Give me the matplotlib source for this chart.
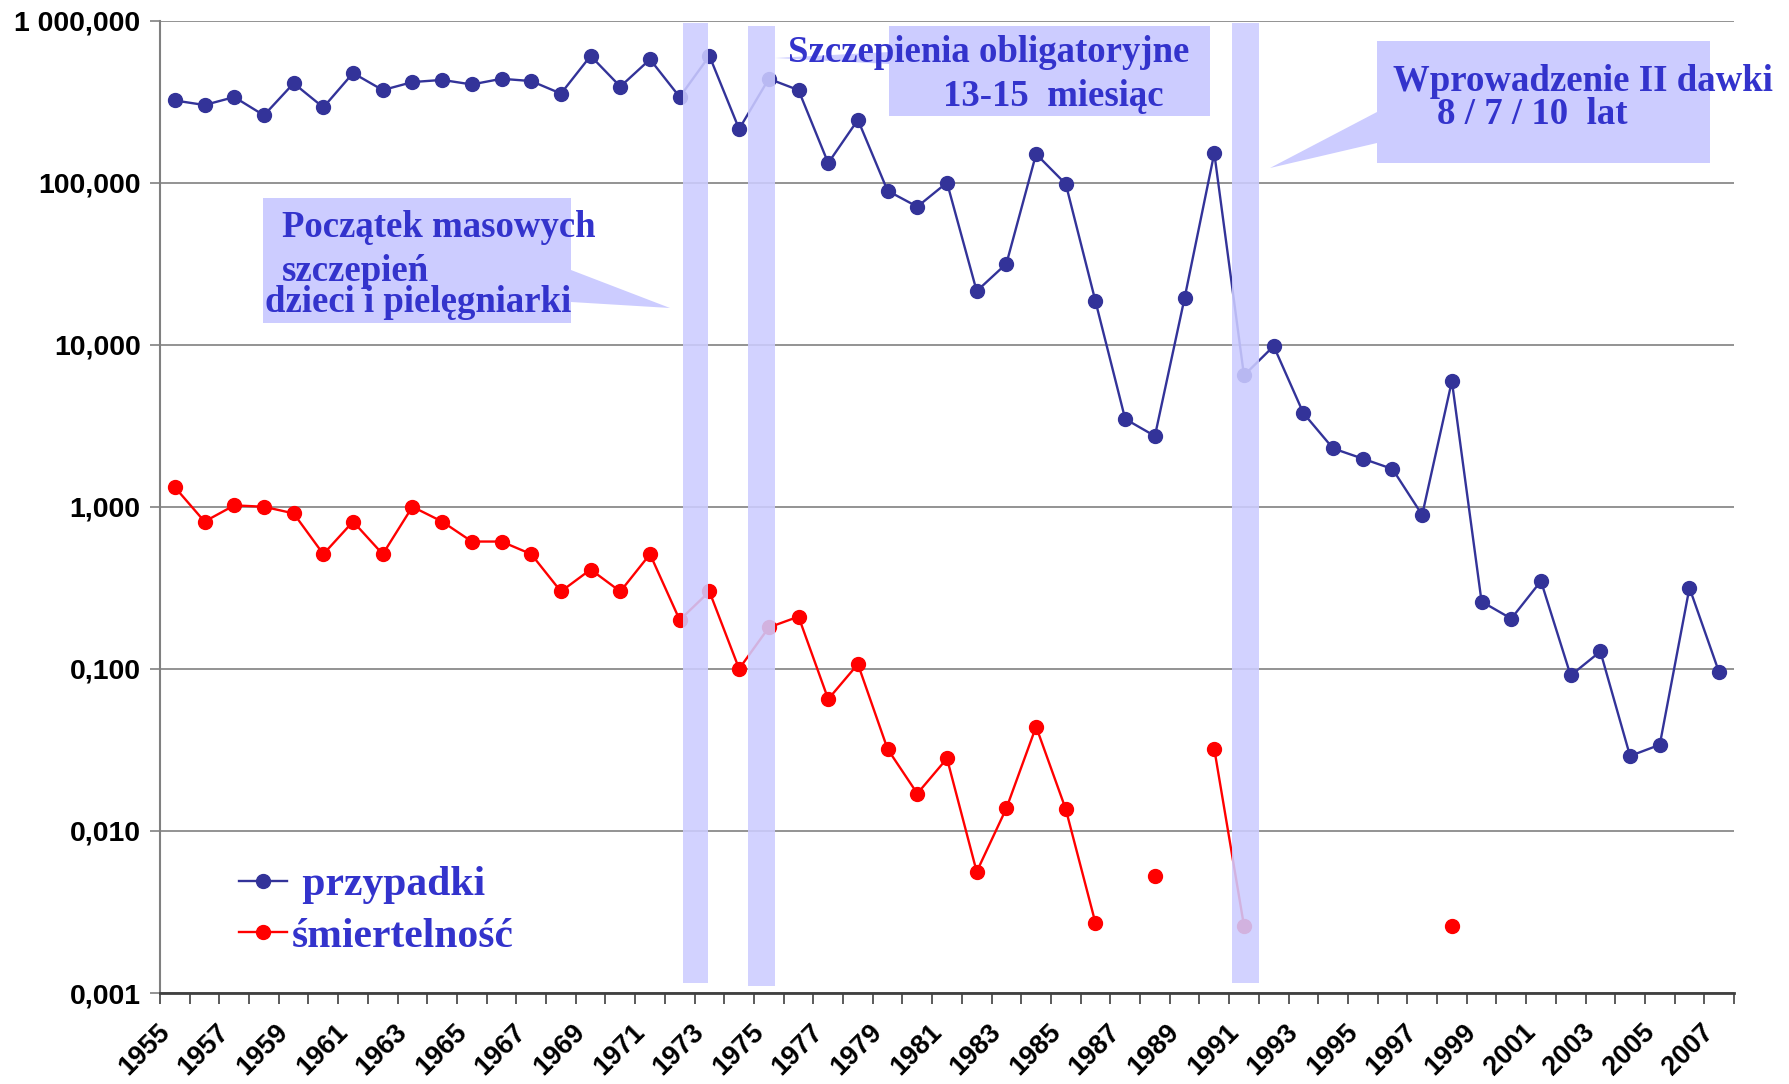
import matplotlib
matplotlib.use("Agg")
import matplotlib.pyplot as plt
import numpy as np
from matplotlib.patches import Polygon
from matplotlib.ticker import NullLocator

# ---------------- data ----------------
years = list(range(1955, 2008))
przypadki = [321, 301, 337, 260, 410, 291, 474, 372, 417, 430,
             403, 437, 423, 354, 605, 391, 576, 337, 605, 214,
             437, 372, 132, 244, 89, 71, 100, 21.4, 31.6, 150,
             98, 18.5, 3.48, 2.73, 19.4, 152, 6.46, 9.8, 3.78, 2.29,
             1.98, 1.71, 0.89, 5.96, 0.26, 0.204, 0.348, 0.091, 0.128, 0.029,
             0.034, 0.316, 0.095]
nan = np.nan
smiertelnosc = [1.32, 0.81, 1.02, 1.0, 0.91, 0.51, 0.81, 0.51, 1.0, 0.81,
                0.61, 0.61, 0.51, 0.30, 0.41, 0.30, 0.51, 0.20, 0.30, 0.10,
                0.18, 0.21, 0.065, 0.107, 0.032, 0.017, 0.028, 0.0056, 0.0138, 0.044,
                0.0136, 0.0027, nan, 0.0053, nan, 0.032, 0.0026, nan, nan, nan,
                nan, nan, nan, 0.0026, nan, nan, nan, nan, nan, nan,
                nan, nan, nan]
series_labels = [" przypadki", "śmiertelność"]
y_ticks = [0.001, 0.01, 0.1, 1, 10, 100, 1000]
y_ticklabels = ["0,001", "0,010", "0,100", "1,000", "10,000", "100,000", "1 000,000"]
x_ticklabels = [str(y) for y in range(1955, 2008, 2)]
# shaded periods (year-span of vertical bands)
bands = [(1972.11, 1972.95), (1974.30, 1975.21), (1990.59, 1991.50)]

# ---------------- figure ----------------
W, H = 1789, 1084
fig = plt.figure(figsize=(W / 100, H / 100), dpi=100)
ax = fig.add_axes([160 / W, 91 / H, (1734 - 160) / W, (1063.5 - 91) / H])

def fx(px):
    return px / W

def fy(py):
    return 1 - py / H

inc_color = "#333399"
mort_color = "#ff0000"
txt_color = "#3333cc"
box_color = "#ccccff"

ax.plot(years, przypadki, color=inc_color, lw=1.7, marker="o", ms=10,
        zorder=3, label=series_labels[0], clip_on=False)
ax.plot(years, smiertelnosc, color=mort_color, lw=1.7, marker="o", ms=10,
        zorder=3, label=series_labels[1], clip_on=False)

ax.set_yscale("log")
ax.set_ylim(0.001, 1000)
ax.set_xlim(1954.5, 2007.5)

ax.set_yticks(y_ticks)
ax.set_yticklabels(y_ticklabels)
ax.yaxis.set_minor_locator(NullLocator())
ax.set_xticks(list(range(1955, 2008, 2)))
ax.set_xticklabels(x_ticklabels, rotation=45, ha="right")
ax.set_xticks(np.arange(1954.5, 2008, 1), minor=True)

for lab in ax.get_xticklabels():
    lab.set_fontfamily("Liberation Sans")
    lab.set_fontweight("bold")
    lab.set_fontsize(19.5)
for lab in ax.get_yticklabels():
    lab.set_fontfamily("Liberation Sans")
    lab.set_fontweight("bold")
    lab.set_fontsize(20.5)

ax.tick_params(axis="x", which="major", length=0, pad=19)
ax.tick_params(axis="x", which="minor", length=8, width=1.2, color="#404040")
ax.tick_params(axis="y", which="major", length=7, width=1.2, color="#808080", pad=7)

ax.yaxis.grid(True, color="#808080", lw=1.2)
ax.set_axisbelow(True)
for s in ["top", "right"]:
    ax.spines[s].set_visible(False)
ax.spines["left"].set_color("#808080")
ax.spines["left"].set_linewidth(1.5)
ax.spines["bottom"].set_color("#404040")
ax.spines["bottom"].set_linewidth(2)

# vertical shaded bands
ax.axvspan(bands[0][0], bands[0][1], ymin=0.0103, ymax=0.9974,
           color=box_color, alpha=0.88, lw=0, zorder=4)
ax.axvspan(bands[1][0], bands[1][1], ymin=0.0072, ymax=0.994,
           color=box_color, alpha=0.88, lw=0, zorder=4)
ax.axvspan(bands[2][0], bands[2][1], ymin=0.0103, ymax=0.9974,
           color=box_color, alpha=0.88, lw=0, zorder=4)

# callout boxes (figure pixel coordinates)
def callout(pts):
    poly = Polygon([(fx(x), fy(y)) for x, y in pts], closed=True,
                   transform=fig.transFigure, facecolor=box_color,
                   edgecolor="none", zorder=5)
    fig.add_artist(poly)

callout([(263, 198), (571, 198), (571, 270), (670, 308), (571, 302),
         (571, 323), (263, 323)])
callout([(889, 26), (1210, 26), (1210, 116), (889, 116), (889, 64),
         (775, 58), (889, 52)])
callout([(1377, 41), (1710, 41), (1710, 163), (1377, 163), (1377, 143),
         (1270, 168), (1377, 112)])

def ftxt(x, y, s):
    fig.text(fx(x), fy(y), s, ha="left", va="baseline", fontsize=26.5,
             family="Liberation Serif", weight="bold", color=txt_color, zorder=6)

ftxt(282, 237, "Początek masowych")
ftxt(282, 281, "szczepień")
ftxt(265, 312, "dzieci i pielęgniarki")
ftxt(788, 62, "Szczepienia obligatoryjne")
ftxt(943, 106, "13-15  miesiąc")
ftxt(1393, 91, "Wprowadzenie II dawki")
ftxt(1437, 124, "8 / 7 / 10  lat")

leg = ax.legend(loc="upper left", bbox_to_anchor=(fx(239), fy(866)),
                bbox_transform=fig.transFigure, frameon=False,
                prop={"family": "Liberation Serif", "weight": "bold", "size": 30},
                labelcolor=txt_color, handlelength=1.15, handletextpad=0.12,
                labelspacing=0.32, borderpad=0, borderaxespad=0, numpoints=1)
leg.set_zorder(7)

fig.savefig("out.png", dpi=100)
